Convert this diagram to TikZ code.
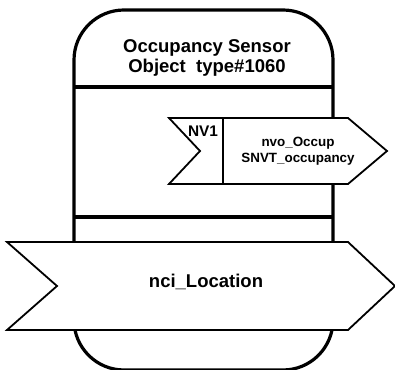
\documentclass[tikz,border=0pt]{standalone}
\usepackage{fontspec}
\setmainfont{Liberation Sans}
\usetikzlibrary{calc}

\tikzset{
  frameline/.style={black, line width=3.2pt},
  nvshape/.style={black, line width=1.8pt, fill=white, line join=miter},
  titletext/.style={font=\bfseries\fontsize{18.5}{20}\selectfont, align=center, anchor=base},
  nvtext/.style={font=\bfseries\fontsize{13.4}{16}\selectfont, align=center, anchor=base},
}

\begin{document}
\begin{tikzpicture}[x=1pt,y=1pt]
            \useasboundingbox (0,0) rectangle (395,369);
            \coordinate (FrameSW) at (74,-1);
            \coordinate (FrameNE) at (333,359);
            \draw[frameline, rounded corners=50pt] (FrameSW) rectangle (FrameNE);% object frame
            \draw[frameline] (74,282) -- (333,282);% header line
            \draw[frameline] (74,152) -- (333,152);

            % output variable
            \draw[nvshape] (169,251) -- (348,251) -- (387,218) -- (348,185) -- (169,185) -- (200,218) -- cycle;
            \draw[nvshape] (223,251) -- (223,185);

            % config property
            \draw[nvshape] (7,127) -- (348,127) -- (395,83) -- (348,39) -- (7,39) -- (57,83) -- cycle;

            \node[titletext] (title) at (207,296) {Occupancy Sensor\\Object\ \ type\#1060};
            \node[nvtext, font=\bfseries\fontsize{15.4}{18}\selectfont] (nvnum) at (203,232) {NV1};
            \node[nvtext] (nvname) at (298,206) {nvo\_Occup\\SNVT\_occupancy};
            \node[titletext] (nciname) at (206,82) {nci\_Location};
        \end{tikzpicture}
\end{document}
